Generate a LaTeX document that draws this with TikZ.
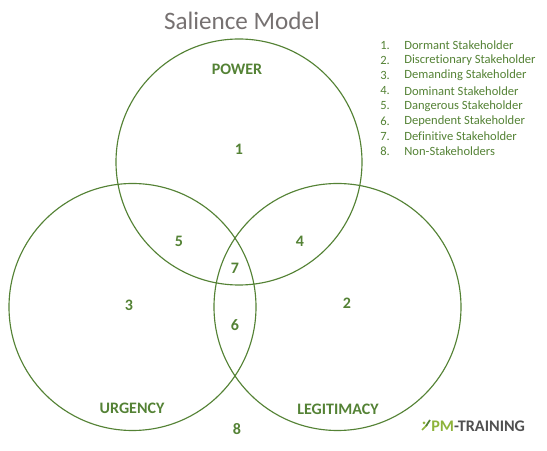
\documentclass[tikz,border=0pt]{standalone}
\usepackage{fontspec}
\setmainfont[Numbers=Lining,Ligatures=NoCommon]{Carlito}
\definecolor{vennGreen}{HTML}{548235}
\definecolor{titleGrey}{HTML}{767171}
\definecolor{logoGrey}{HTML}{505050}
\definecolor{logoGreen}{HTML}{8DB33A}
\tikzset{
  venn/.style={draw=vennGreen, line width=0.65pt},
  setname/.style={text=vennGreen, font=\bfseries\fontsize{9.1}{11}\selectfont},
  region/.style={text=vennGreen, font=\bfseries\fontsize{9.1}{11}\selectfont},
  legendnum/.style={text=vennGreen, anchor=west, font=\fontsize{7.15}{8}\selectfont},
  legendtext/.style={text=vennGreen, anchor=west, font=\fontsize{7.15}{8}\selectfont}
}
\begin{document}
\begin{tikzpicture}[scale=0.02]
\useasboundingbox (0,0) rectangle (547,451);
\draw [venn] (239,289) circle (123);
\draw [venn] (132.5,144) circle (123.5);
\draw [venn] (337.5,144) circle (123.5);
\node [text=titleGrey, font=\fontsize{14.3}{17}\selectfont] (title) at (242,430) {Salience Model};
\node [setname] (power) at (237,381.5) {POWER};
\node [setname] (urgency) at (132,42.5) {URGENCY};
\node [setname] (legitimacy) at (338,41.5) {LEGITIMACY};
\node [region] (r1) at (239,302) {1};
\node [region] (r2) at (347,148) {2};
\node [region] (r3) at (129,146) {3};
\node [region] (r4) at (300,210) {4};
\node [region] (r5) at (179,210) {5};
\node [region] (r6) at (235,126) {6};
\node [region] (r7) at (235,183) {7};
\node [region] (r8) at (237,22) {8};
\foreach \num/\label [count=\i from 0] in {1/Dormant Stakeholder, 2/Discretionary Stakeholder, 3/Demanding Stakeholder, 4/Dominant Stakeholder, 5/Dangerous Stakeholder, 6/Dependent Stakeholder, 7/Definitive Stakeholder, 8/Non-Stakeholders} {
  \node [legendnum, inner sep=0pt] (num\num) at (380, 405.5-15.1*\i) {\num.};
  \node [legendtext, inner sep=0pt] (item\num) at (404, 405.5-15.1*\i) {\label};
}
\node [anchor=west, inner sep=0pt, font=\bfseries\fontsize{9.2}{11}\selectfont] (logo) at (431,24.5) {\textcolor{logoGreen}{PM}\textcolor{logoGrey}{-TRAINING}};
\draw [logoGreen, line width=1pt] (422,21) -- (427,26);
\draw [vennGreen, line width=1pt] (426,25) -- (430,31);
\fill [logoGreen] (424,28) circle (1.5);
\end{tikzpicture}
\end{document}
